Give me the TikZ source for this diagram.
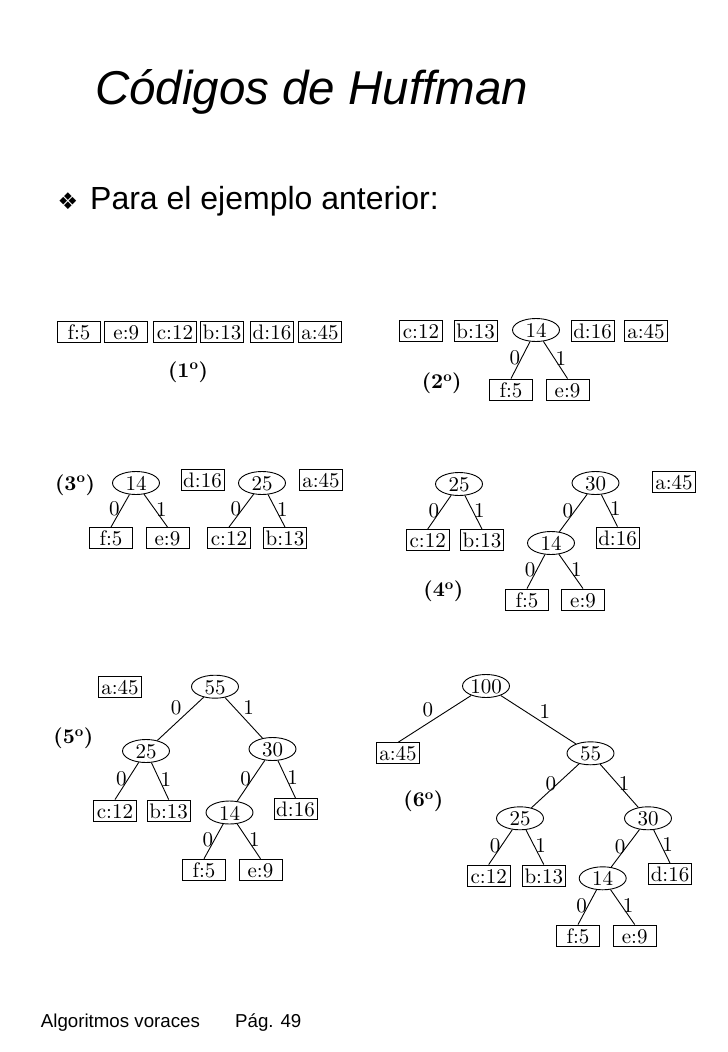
\documentclass[tikz,border=0pt]{standalone}
\usepackage{fontspec}
\usetikzlibrary{shapes.geometric}
\newfontfamily\sansf{Liberation Sans}
\newfontfamily\dejavu{DejaVu Sans}
\newfontfamily\lmten{lmroman10-regular.otf}[BoldFont=lmroman10-bold.otf]
\newcommand{\tf}{\lmten\fontsize{21}{25}\selectfont}
\tikzset{
  leaf/.style={draw, rectangle, line width=0.9pt, minimum width=43pt, minimum height=21pt,
    inner sep=0pt, text height=15pt, text depth=0pt, font=\tf},
  inn/.style={draw, ellipse, line width=0.9pt, minimum width=47pt, minimum height=23pt,
    inner sep=0pt, text height=15pt, text depth=0pt, font=\tf},
  lb/.style={font=\tf, inner sep=1pt},
  stage/.style={font=\tf\bfseries, inner sep=0pt},
  edge/.style={line width=0.9pt}
}
\begin{document}
\begin{tikzpicture}[x=1pt, y=-1pt]
\useasboundingbox (0,0) rectangle (728,1052);
\fill[white] (0,0) rectangle (728,1052);
% title
\node[anchor=base west, inner sep=0pt, font=\sansf\itshape\fontsize{47.5}{57}\selectfont] (title) at (95,104.3) {Códigos de Huffman};
\node[inner sep=0pt, font=\dejavu\fontsize{23}{26}\selectfont] (bul) at (68,201) {❖};
\node[anchor=base west, inner sep=0pt, font=\sansf\fontsize{32}{38}\selectfont] (sub) at (90,209) {Para el ejemplo anterior:};
% footer
\node[anchor=base west, inner sep=0pt, font=\sansf\fontsize{18.7}{22}\selectfont] (foot1) at (40.7,1027.7) {Algoritmos voraces};
\node[anchor=base west, inner sep=0pt, font=\sansf\fontsize{18.7}{22}\selectfont] (foot2) at (235,1027.7) {Pág. 49};

% ---------- (1) ----------
\node[leaf] (a1f) at (79,331.5) {f:5};
\node[leaf] (a1e) at (126.3,331.5) {e:9};
\node[leaf] (a1c) at (175,331.5) {c:12};
\node[leaf] (a1b) at (222,331.5) {b:13};
\node[leaf] (a1d) at (272,331.5) {d:16};
\node[leaf] (a1a) at (320,331.5) {a:45};
\node[stage] (s1) at (188,372) {(1\textsuperscript{o})};

% ---------- (2) ----------
\node[leaf] (a2c) at (421,331) {c:12};
\node[leaf] (a2b) at (475.7,331) {b:13};
\node[inn]  (a2n14) at (536,330) {14};
\node[leaf] (a2d) at (592.5,331) {d:16};
\node[leaf] (a2a) at (646,331) {a:45};
\node[leaf] (a2f) at (511,389.5) {f:5};
\node[leaf] (a2e) at (567.5,389.5) {e:9};
\node[stage] (s2) at (441.7,383.3) {(2\textsuperscript{o})};
\draw[edge] (a2n14) -- (a2f.north) node[lb,pos=.45,left] {0};
\draw[edge] (a2n14) -- (a2e.north) node[lb,pos=.45,right] {1};

% ---------- (3) ----------
\node[inn]  (a3n14) at (136,483) {14};
\node[leaf] (a3d) at (202.5,480) {d:16};
\node[inn]  (a3n25) at (262,483) {25};
\node[leaf] (a3a) at (321,480) {a:45};
\node[leaf] (a3f) at (111,538) {f:5};
\node[leaf] (a3e) at (167.5,538) {e:9};
\node[leaf] (a3c) at (229,538) {c:12};
\node[leaf] (a3b) at (285,538) {b:13};
\node[stage] (s3) at (75,485) {(3\textsuperscript{o})};
\draw[edge] (a3n14) -- (a3f.north) node[lb,pos=.45,left] {0};
\draw[edge] (a3n14) -- (a3e.north) node[lb,pos=.45,right] {1};
\draw[edge] (a3n25) -- (a3c.north) node[lb,pos=.45,left] {0};
\draw[edge] (a3n25) -- (a3b.north) node[lb,pos=.45,right] {1};

% ---------- (4) ----------
\node[inn]  (a4n25) at (459,484) {25};
\node[inn]  (a4n30) at (595.5,483) {30};
\node[leaf] (a4a) at (674,481.7) {a:45};
\node[leaf] (a4c) at (427.7,540) {c:12};
\node[leaf] (a4b) at (482,540) {b:13};
\node[inn]  (a4n14) at (551,543) {14};
\node[leaf] (a4d) at (617.5,537.5) {d:16};
\node[leaf] (a4f) at (527,599.5) {f:5};
\node[leaf] (a4e) at (583,599.5) {e:9};
\node[stage] (s4) at (443.3,591.7) {(4\textsuperscript{o})};
\draw[edge] (a4n25) -- (a4c.north) node[lb,pos=.45,left] {0};
\draw[edge] (a4n25) -- (a4b.north) node[lb,pos=.45,right] {1};
\draw[edge] (a4n30) -- (a4n14) node[lb,pos=.45,left] {0};
\draw[edge] (a4n30) -- (a4d.north) node[lb,pos=.45,right] {1};
\draw[edge] (a4n14) -- (a4f.north) node[lb,pos=.45,left] {0};
\draw[edge] (a4n14) -- (a4e.north) node[lb,pos=.45,right] {1};

% ---------- (5) ----------
\node[leaf] (a5a) at (120,686.7) {a:45};
\node[inn]  (a5n55) at (215,686.7) {55};
\node[inn]  (a5n25) at (146,751) {25};
\node[inn]  (a5n30) at (272.5,749) {30};
\node[leaf] (a5c) at (115,810.5) {c:12};
\node[leaf] (a5b) at (168.7,810.5) {b:13};
\node[inn]  (a5n14) at (229.5,812.5) {14};
\node[leaf] (a5d) at (295.5,809) {d:16};
\node[leaf] (a5f) at (204,869.7) {f:5};
\node[leaf] (a5e) at (260.5,869.7) {e:9};
\node[stage] (s5) at (73.3,738.3) {(5\textsuperscript{o})};
\draw[edge] (a5n55) -- (a5n25) node[lb,pos=.45,above left] {0};
\draw[edge] (a5n55) -- (a5n30) node[lb,pos=.45,above right] {1};
\draw[edge] (a5n25) -- (a5c.north) node[lb,pos=.45,left] {0};
\draw[edge] (a5n25) -- (a5b.north) node[lb,pos=.45,right] {1};
\draw[edge] (a5n30) -- (a5n14) node[lb,pos=.45,left] {0};
\draw[edge] (a5n30) -- (a5d.north) node[lb,pos=.45,right] {1};
\draw[edge] (a5n14) -- (a5f.north) node[lb,pos=.45,left] {0};
\draw[edge] (a5n14) -- (a5e.north) node[lb,pos=.45,right] {1};

% ---------- (6) ----------
\node[inn]  (a6n100) at (486,686) {100};
\node[leaf] (a6a) at (398,753.3) {a:45};
\node[inn]  (a6n55) at (590.5,753.3) {55};
\node[inn]  (a6n25) at (520,818.3) {25};
\node[inn]  (a6n30) at (648,818.3) {30};
\node[leaf] (a6c) at (488.7,875.5) {c:12};
\node[leaf] (a6b) at (543.8,875.5) {b:13};
\node[inn]  (a6n14) at (602.7,878.3) {14};
\node[leaf] (a6d) at (670,874) {d:16};
\node[leaf] (a6f) at (578,935.5) {f:5};
\node[leaf] (a6e) at (634.7,935.5) {e:9};
\node[stage] (s6) at (423.3,801.7) {(6\textsuperscript{o})};
\draw[edge] (a6n100) -- (a6a.north) node[lb,pos=.5,above left] {0};
\draw[edge] (a6n100) -- (a6n55) node[lb,pos=.5,above right] {1};
\draw[edge] (a6n55) -- (a6n25) node[lb,pos=.45,left] {0};
\draw[edge] (a6n55) -- (a6n30) node[lb,pos=.45,right] {1};
\draw[edge] (a6n25) -- (a6c.north) node[lb,pos=.45,left] {0};
\draw[edge] (a6n25) -- (a6b.north) node[lb,pos=.45,right] {1};
\draw[edge] (a6n30) -- (a6n14) node[lb,pos=.45,left] {0};
\draw[edge] (a6n30) -- (a6d.north) node[lb,pos=.45,right] {1};
\draw[edge] (a6n14) -- (a6f.north) node[lb,pos=.45,left] {0};
\draw[edge] (a6n14) -- (a6e.north) node[lb,pos=.45,right] {1};
\end{tikzpicture}
\end{document}
